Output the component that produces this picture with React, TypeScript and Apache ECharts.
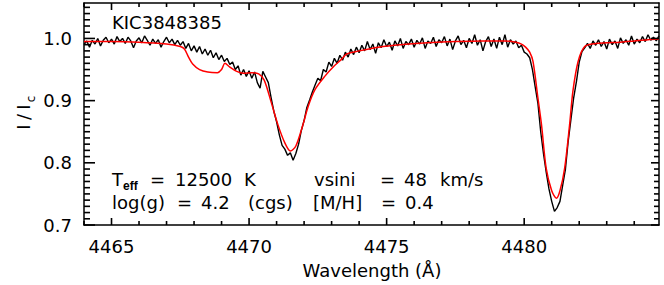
import React, { useEffect, useRef } from "react";
import * as echarts from "echarts";

// Observed spectrum: linear dispersion grid
const obsStart = 4464.0;
const obsStep = 0.1;
const obsFlux = [
  0.990, 0.996, 0.986, 0.997, 0.991, 1.000, 0.988, 0.997, 1.002, 0.993,
  0.999, 0.991, 1.003, 0.995, 1.000, 0.992, 1.002, 0.996, 0.985, 0.996,
  1.001, 0.993, 1.004, 0.997, 0.989, 0.999, 0.992, 0.998, 0.986, 0.995,
  1.002, 0.993, 0.999, 0.990, 0.997, 0.989, 0.995, 0.984, 0.992, 0.980,
  0.988, 0.978, 0.987, 0.975, 0.983, 0.973, 0.981, 0.969, 0.977, 0.966,
  0.973, 0.963, 0.968, 0.958, 0.962, 0.950, 0.956, 0.941, 0.950, 0.939,
  0.948, 0.936, 0.946, 0.929, 0.920, 0.947, 0.938, 0.929, 0.905, 0.883,
  0.866, 0.845, 0.828, 0.822, 0.812, 0.816, 0.804, 0.815, 0.830, 0.852,
  0.868, 0.889, 0.901, 0.914, 0.925, 0.936, 0.932, 0.950, 0.946, 0.962,
  0.955, 0.968, 0.960, 0.973, 0.965, 0.978, 0.970, 0.983, 0.974, 0.986,
  0.977, 0.989, 0.980, 0.995, 0.982, 0.991, 0.976, 0.993, 0.985, 0.998,
  0.987, 0.994, 0.981, 0.996, 0.988, 1.000, 0.984, 0.995, 0.990, 0.999,
  0.986, 0.997, 0.991, 1.001, 0.984, 0.996, 0.992, 1.002, 0.987, 0.998,
  0.993, 1.003, 0.988, 0.999, 0.982, 0.996, 1.004, 0.990, 0.997, 0.985,
  1.000, 0.992, 1.006, 0.989, 0.998, 0.980, 0.995, 1.003, 0.987, 0.999,
  0.984, 1.002, 0.990, 1.006, 0.986, 0.998, 0.991, 0.996, 0.985, 0.989,
  0.978, 0.975, 0.969, 0.950, 0.922, 0.895, 0.850, 0.815, 0.785, 0.758,
  0.738, 0.722, 0.728, 0.738, 0.764, 0.790, 0.835, 0.870, 0.905, 0.931,
  0.962, 0.979, 0.985, 0.992, 0.984, 0.996, 0.989, 0.998, 0.987, 0.995,
  0.983, 0.999, 0.990, 0.996, 0.984, 1.001, 0.992, 0.998, 0.989, 1.004,
  0.991, 0.999, 0.993, 1.003, 0.995, 1.006, 0.997, 1.002, 0.996, 1.004,
];

// Synthetic model spectrum
const modelWave = [
  4464.0, 4465.0, 4466.0, 4467.0, 4467.5, 4467.65, 4467.8, 4467.95, 4468.2, 4468.5,
  4468.85, 4469.0, 4469.12, 4469.3, 4469.55, 4469.8, 4470.1, 4470.35, 4470.55, 4470.8,
  4471.05, 4471.3, 4471.5, 4471.7, 4471.95, 4472.15, 4472.4, 4472.75, 4473.1, 4473.35,
  4473.55, 4474.0, 4474.7, 4475.5, 4476.5, 4477.5, 4478.5, 4479.3, 4479.7, 4479.9,
  4480.05, 4480.2, 4480.32, 4480.5, 4480.63, 4480.8, 4481.0, 4481.17, 4481.3, 4481.47,
  4481.65, 4481.77, 4481.96, 4482.2, 4482.6, 4483.0, 4483.5, 4484.0, 4484.5, 4484.9,
];
const modelFlux = [
  0.995, 0.995, 0.994, 0.991, 0.987, 0.983, 0.970, 0.959, 0.950, 0.946,
  0.945, 0.950, 0.960, 0.954, 0.947, 0.944, 0.945, 0.943, 0.933, 0.898,
  0.861, 0.832, 0.819, 0.827, 0.860, 0.891, 0.918, 0.939, 0.956, 0.966,
  0.975, 0.980, 0.986, 0.990, 0.993, 0.995, 0.996, 0.996, 0.994, 0.991,
  0.986, 0.978, 0.963, 0.904, 0.861, 0.791, 0.755, 0.743, 0.755, 0.791,
  0.861, 0.915, 0.963, 0.987, 0.992, 0.993, 0.994, 0.996, 0.998, 0.999,
];

const xMajorTicks = [4465, 4470, 4475, 4480];
const xMinorTicks = [
  4464, 4465, 4466, 4467, 4468, 4469, 4470, 4471, 4472, 4473, 4474,
  4475, 4476, 4477, 4478, 4479, 4480, 4481, 4482, 4483, 4484,
];
const yMajorTicks = [0.7, 0.8, 0.9, 1.0];
const yMinorTicks = [
  0.70, 0.71, 0.72, 0.73, 0.74, 0.75, 0.76, 0.77, 0.78, 0.79,
  0.80, 0.81, 0.82, 0.83, 0.84, 0.85, 0.86, 0.87, 0.88, 0.89,
  0.90, 0.91, 0.92, 0.93, 0.94, 0.95, 0.96, 0.97, 0.98, 0.99,
  1.00, 1.01, 1.02, 1.03, 1.04, 1.05,
];

const X_MIN = 4464;
const X_MAX = 4484.9;
const Y_MIN = 0.7;
const Y_MAX = 1.057;

const FONT = "DejaVu Sans";
const TICK_W = 1.6;

function txt(text: string, x: number, y: number, size = 18, extra: any = {}) {
  return {
    type: "text",
    x,
    y,
    silent: true,
    style: {
      text,
      fill: "#000",
      font: `${size}px '${FONT}'`,
      align: "left",
      verticalAlign: "middle",
      ...extra,
    },
  };
}

// A tick drawn as a thin filled rectangle
function bar(x: number, y: number, w: number, h: number) {
  return {
    type: "rect",
    z: 100,
    shape: { x, y, width: w, height: h },
    style: { fill: "#000" },
  };
}

export default function App() {
  const ref = useRef<HTMLDivElement>(null);

  useEffect(() => {
    if (!ref.current) return;
    const chart = echarts.init(ref.current, undefined, { renderer: "svg" });

    const mkLine = () => ({ show: true, onZero: false, lineStyle: { color: "#000", width: 1.5 } });

    chart.setOption({
      animation: false,
      grid: { left: 84, right: 5, top: 3, bottom: 60 },
      xAxis: [
        {
          type: "value",
          position: "bottom",
          min: X_MIN,
          max: X_MAX,
          axisLine: mkLine(),
          splitLine: { show: false },
          axisTick: { show: false },
          axisLabel: {
            show: true,
            customValues: xMajorTicks,
            color: "#000",
            fontSize: 18,
            fontFamily: FONT,
            margin: 12,
            formatter: (v: number) => String(v),
          },
        },
        {
          type: "value",
          position: "top",
          min: X_MIN,
          max: X_MAX,
          axisLine: mkLine(),
          splitLine: { show: false },
          axisTick: { show: false },
          axisLabel: { show: false },
        },
      ],
      yAxis: [
        {
          type: "value",
          position: "left",
          min: Y_MIN,
          max: Y_MAX,
          axisLine: mkLine(),
          splitLine: { show: false },
          axisTick: { show: false },
          axisLabel: {
            show: true,
            customValues: yMajorTicks,
            color: "#000",
            fontSize: 18,
            fontFamily: FONT,
            margin: 12,
            formatter: (v: number) => v.toFixed(1),
          },
        },
        {
          type: "value",
          position: "right",
          min: Y_MIN,
          max: Y_MAX,
          axisLine: mkLine(),
          splitLine: { show: false },
          axisTick: { show: false },
          axisLabel: { show: false },
        },
      ],
      series: [
        {
          name: "observed",
          type: "line",
          data: obsFlux.map((v, i) => [obsStart + i * obsStep, v]),
          showSymbol: false,
          lineStyle: { color: "#000", width: 1.4 },
          z: 2,
        },
        {
          name: "model",
          type: "line",
          data: modelWave.map((w, i) => [w, modelFlux[i]]),
          showSymbol: false,
          smooth: 0.3,
          lineStyle: { color: "#ff0000", width: 1.5 },
          z: 3,
        },
      ],
    });

    // Tick marks placed through the chart's own scales
    const toPx = (x: number, y: number) => chart.convertToPixel({ gridIndex: 0 }, [x, y]) as number[];
    const top = toPx(X_MIN, Y_MAX)[1];
    const bottom = toPx(X_MIN, Y_MIN)[1];
    const left = toPx(X_MIN, Y_MIN)[0];
    const right = toPx(X_MAX, Y_MIN)[0];
    const ticks: any[] = [];
    const half = TICK_W / 2;
    xMinorTicks.forEach((v) => {
      const px = toPx(v, Y_MIN)[0];
      const major = xMajorTicks.includes(v);
      const len = major ? 7 : 4;
      ticks.push(bar(px - half, bottom - len, TICK_W, len));
      ticks.push(bar(px - half, top, TICK_W, len));
    });
    yMinorTicks.forEach((v) => {
      const py = toPx(X_MIN, v)[1];
      const major = yMajorTicks.some((m) => Math.abs(m - v) < 1e-6);
      const lenL = major ? 11 : 6;
      const lenR = major ? 8 : 5;
      ticks.push(bar(left, py - half, lenL, TICK_W));
      ticks.push(bar(right - lenR, py - half, lenR, TICK_W));
    });

    chart.setOption({
      graphic: [
        ...ticks,
        txt("KIC3848385", 112, 22),
        txt("T", 112, 179),
        txt("eff", 123, 186, 12, { fontWeight: "bold" }),
        txt("=", 150, 179),
        txt("12500", 175, 179),
        txt("K", 244, 179),
        txt("vsini", 314, 179),
        txt("=", 380, 179),
        txt("48", 404, 179),
        txt("km/s", 440, 179),
        txt("log(g)", 112, 202),
        txt("=", 177, 202),
        txt("4.2", 201, 202),
        txt("(cgs)", 248, 202),
        txt("[M/H]", 313, 202),
        txt("=", 381, 202),
        txt("0.4", 405, 202),
        txt("Wavelength (Å)", 372, 270, 18, { align: "center" }),
        { ...txt("I", 23, 127, 18, { align: "center" }), rotation: Math.PI / 2 },
        { ...txt("/", 23, 117, 18, { align: "center" }), rotation: Math.PI / 2 },
        { ...txt("I", 23, 107, 18, { align: "center" }), rotation: Math.PI / 2 },
        { ...txt("c", 31, 99, 12, { align: "center" }), rotation: Math.PI / 2 },
      ],
    });

    return () => chart.dispose();
  }, []);

  return (
    <div
      ref={ref}
      style={{ position: "fixed", left: 0, top: 0, width: 664, height: 285, background: "#fff" }}
    />
  );
}
